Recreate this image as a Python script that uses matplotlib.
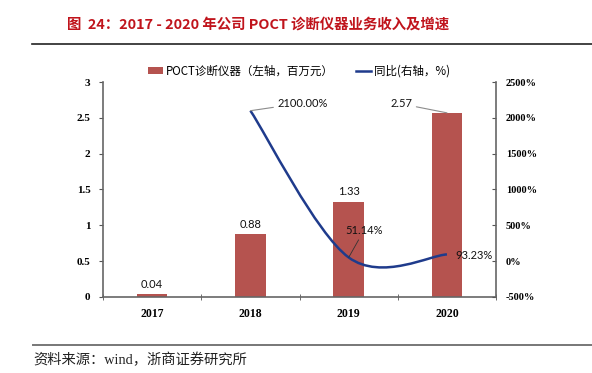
import matplotlib
matplotlib.use("Agg")
import matplotlib.pyplot as plt
from matplotlib.path import Path
from matplotlib.patches import PathPatch, Patch
from matplotlib.lines import Line2D
from matplotlib.font_manager import FontProperties
import numpy as np

plt.rcParams['font.family'] = ['Noto Sans CJK SC', 'DejaVu Sans']

years = ["2017", "2018", "2019", "2020"]
revenue = [0.04, 0.88, 1.33, 2.57]
growth_years = ["2018", "2019", "2020"]
growth = [2100.00, 51.14, 93.23]
left_ticks = [0, 0.5, 1, 1.5, 2, 2.5, 3]
left_tick_labels = ["0", "0.5", "1", "1.5", "2", "2.5", "3"]
right_ticks = [-500, 0, 500, 1000, 1500, 2000, 2500]
right_tick_labels = ["-500%", "0%", "500%", "1000%", "1500%", "2000%", "2500%"]

bar_color = "#B5534F"
line_color = "#1F3B8C"
title_color = "#C0141C"

fig = plt.figure(figsize=(5.92, 3.73), dpi=100)
ax = fig.add_axes([0.174, 0.204, 0.664, 0.576])
ax2 = ax.twinx()

x = np.arange(len(years))
ax.bar(x, revenue, width=0.31, color=bar_color, zorder=2)
ax.set_xlim(-0.5, len(years) - 0.5)
ax.set_ylim(0, 3)
ax.set_yticks(left_ticks)
ax.set_yticklabels(left_tick_labels)
ax.set_xticks(x)
ax.set_xticklabels(years)
ax.set_xticks(np.arange(-0.5, len(years), 1.0), minor=True)

fp_y = FontProperties(family='Liberation Serif', weight='bold', size=8)
fp_x = FontProperties(family='Liberation Serif', weight='bold', size=8.5)
fp_r = FontProperties(family='Liberation Serif', weight='bold', size=7.5)
for lab in ax.get_yticklabels():
    lab.set_fontproperties(fp_y)
for lab in ax.get_xticklabels():
    lab.set_fontproperties(fp_x)
ax.tick_params(axis='x', which='major', length=0, pad=8)
ax.tick_params(axis='x', which='minor', length=5, direction='inout', color='#555555')
ax.tick_params(axis='y', length=3, direction='out', color='#555555', pad=6)

for s in ['top', 'right']:
    ax.spines[s].set_visible(False)
for s in ['top', 'left', 'bottom']:
    ax2.spines[s].set_visible(False)
for sp in (ax.spines['left'], ax.spines['bottom'], ax2.spines['right']):
    sp.set_color('#666666')
    sp.set_linewidth(1.2)

ax2.set_ylim(-500, 2500)
ax2.set_yticks(right_ticks)
ax2.set_yticklabels(right_tick_labels)
for lab in ax2.get_yticklabels():
    lab.set_fontproperties(fp_r)
ax2.tick_params(axis='y', length=3, direction='in', color='#555555', pad=7)

# Smoothed line (Excel-style Bezier smoothing)
gx = np.array([years.index(y) for y in growth_years], dtype=float)
gy = np.array(growth, dtype=float)
pts = np.column_stack([gx, gy])
n = len(pts)
verts = [tuple(pts[0])]
codes = [Path.MOVETO]
for i in range(n - 1):
    p_prev = pts[i - 1] if i > 0 else pts[i]
    p0 = pts[i]
    p1 = pts[i + 1]
    p_next = pts[i + 2] if i + 2 < n else pts[i + 1]
    c1 = p0 + (p1 - p_prev) / 6.0
    c2 = p1 - (p_next - p0) / 6.0
    verts += [tuple(c1), tuple(c2), tuple(p1)]
    codes += [Path.CURVE4] * 3
ax2.add_patch(PathPatch(Path(verts, codes), fill=False, edgecolor=line_color, lw=1.8, zorder=3))

lab_font = dict(family=['Lato', 'DejaVu Sans'], size=8, color='#111111')
lead = dict(arrowstyle='-', color='#8C8C8C', lw=0.8, shrinkA=1, shrinkB=0)
# bar labels
for i, v in enumerate(revenue):
    if i == len(revenue) - 1:
        ax.annotate(f"{v:.2f}", xy=(i, v), xytext=(-25, 6.5), textcoords='offset points',
                    ha='right', va='center', **lab_font, arrowprops=lead)
    else:
        ax.annotate(f"{v:.2f}", xy=(i, v), xytext=(0, 7), textcoords='offset points',
                    ha='center', va='center', **lab_font)

# growth labels
ax2.annotate(f"{growth[0]:.2f}%", xy=(gx[0], gy[0]), xytext=(19.5, 5.5), textcoords='offset points',
             ha='left', va='center', **lab_font, arrowprops=lead)
ax2.annotate(f"{growth[1]:.2f}%", xy=(gx[1], gy[1]), xytext=(11, 19.5), textcoords='offset points',
             ha='center', va='center', **lab_font,
             arrowprops=dict(arrowstyle='-', color='#333333', lw=0.6, shrinkA=1, shrinkB=0))
ax2.annotate(f"{growth[2]:.2f}%", xy=(gx[2], gy[2]), xytext=(6, -1), textcoords='offset points',
             ha='left', va='center', **lab_font)

# legend
handles = [Patch(facecolor=bar_color, edgecolor='none'),
           Line2D([0], [0], color=line_color, lw=1.8)]
labels = ["POCT诊断仪器（左轴，百万元）", "同比(右轴，%)"]
fig.legend(handles, labels, loc='center', bbox_to_anchor=(0.505, 0.81), ncol=2, frameon=False,
           prop=dict(family=['Noto Sans CJK SC', 'DejaVu Sans'], size=8.3),
           handlelength=1.3, handleheight=0.6, columnspacing=1.9, handletextpad=0.25)

# title
fig.text(0.113, 0.933, "图  24：2017 - 2020 年公司 POCT 诊断仪器业务收入及增速",
         color=title_color, fontsize=10.4, fontweight='bold',
         family=['Noto Sans CJK SC', 'DejaVu Sans'], va='center', ha='left')
fig.add_artist(Line2D([0.054, 1.0], [0.882, 0.882], color='#222222', lw=1.2, transform=fig.transFigure))
fig.add_artist(Line2D([0.055, 1.0], [0.075, 0.075], color='#777777', lw=1.4, transform=fig.transFigure))
fig.text(0.056, 0.035, "资料来源：wind，浙商证券研究所", fontsize=10.3, color='#222222',
         family=['Liberation Serif', 'Noto Sans CJK SC'], va='center', ha='left')

fig.savefig("out.png", dpi=100)
